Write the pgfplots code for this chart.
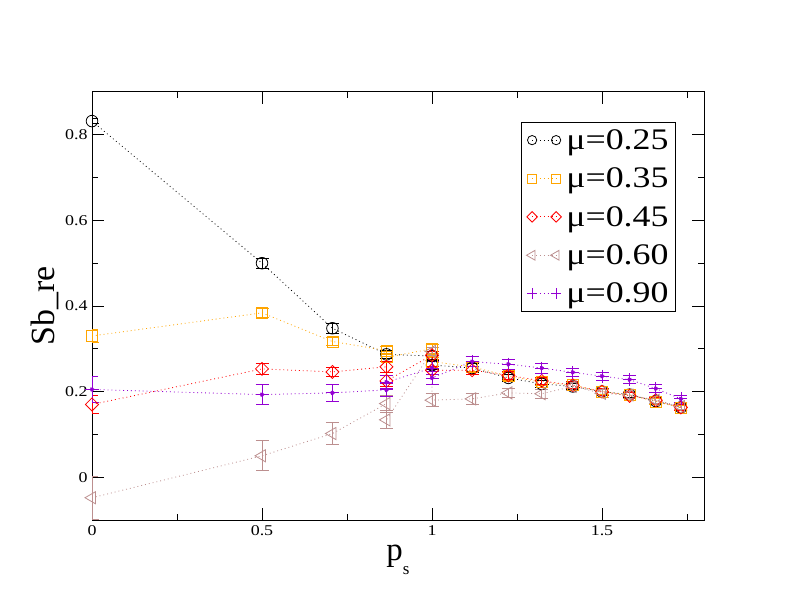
\documentclass[border=0pt]{standalone}
\usepackage{pgfplots}
\pgfplotsset{compat=1.18}
\usepackage{pgfplotstable}
\usepackage{fontspec}
\setmainfont{Liberation Serif}
\newfontfamily\widefont[FakeStretch=1.2]{Liberation Serif}
\definecolor{gorange}{RGB}{255,165,0}
\definecolor{gbrown}{RGB}{188,143,143}
\definecolor{gviolet}{RGB}{148,0,211}

\pgfplotstableread{
x y e
0 0.832 0.006
0.5 0.500 0.012
0.7071 0.348 0.012
0.8660 0.287 0.010
1.0 0.283 0.010
1.0 0.262 0.010
1.1180 0.255 0.010
1.2247 0.232 0.008
1.3229 0.218 0.008
1.4142 0.212 0.007
1.5 0.200 0.007
1.5811 0.193 0.006
1.6583 0.178 0.006
1.7321 0.163 0.006
}\tA
\pgfplotstableread{
x y e
0 0.330 0.016
0.5 0.384 0.011
0.7071 0.317 0.010
0.8660 0.296 0.010
0.8660 0.280 0.010
1.0 0.300 0.010
1.0 0.270 0.010
1.1180 0.258 0.010
1.2247 0.236 0.009
1.3229 0.222 0.008
1.4142 0.215 0.008
1.5 0.200 0.007
1.5811 0.192 0.007
1.6583 0.177 0.006
1.7321 0.162 0.006
}\tB
\pgfplotstableread{
x y e
0 0.170 0.022
0.5 0.253 0.013
0.7071 0.246 0.010
0.8660 0.258 0.012
0.8660 0.225 0.012
1.0 0.285 0.010
1.0 0.250 0.010
1.1180 0.250 0.010
1.2247 0.238 0.009
1.3229 0.225 0.009
1.4142 0.215 0.008
1.5 0.200 0.008
1.5811 0.190 0.007
1.6583 0.180 0.007
1.7321 0.163 0.006
}\tC
\pgfplotstableread{
x y e
0 -0.048 0.050
0.5 0.050 0.035
0.7071 0.102 0.025
0.8660 0.172 0.020
0.8660 0.134 0.021
1.0 0.294 0.010
1.0 0.180 0.015
1.1180 0.183 0.012
1.2247 0.197 0.010
1.3229 0.195 0.010
1.4142 0.212 0.010
1.5 0.196 0.009
1.5811 0.192 0.008
1.6583 0.180 0.008
1.7321 0.165 0.007
}\tD
\pgfplotstableread{
x y e
0 0.205 0.030
0.5 0.193 0.024
0.7071 0.197 0.020
0.8660 0.204 0.015
0.8660 0.222 0.015
1.0 0.255 0.015
1.0 0.232 0.015
1.1180 0.270 0.012
1.2247 0.264 0.012
1.3229 0.255 0.012
1.4142 0.245 0.010
1.5 0.236 0.010
1.5811 0.228 0.010
1.6583 0.207 0.009
1.7321 0.183 0.009
}\tE

\begin{document}
\begin{tikzpicture}
\path[use as bounding box] (-92bp,-92bp) rectangle (700bp,520bp);
\begin{axis}[
  at={(0,0)}, anchor=south west,
  scale only axis, width=612bp, height=428bp,
  xmin=0, xmax=1.8, ymin=-0.1, ymax=0.9,
  xtick={0,0.5,1,1.5}, minor xtick={0.25,0.75,1.25,1.75},
  ytick={0,0.2,0.4,0.6,0.8}, minor ytick={-0.1,0.1,0.3,0.5,0.7},
  tick align=inside, major tick length=12bp, minor tick length=6bp,
  tick style={black, line width=0.8bp},
  axis line style={line width=1bp},
  /pgf/number format/assume math mode=true,
  ticklabel style={font=\widefont\fontsize{15}{18}\selectfont},
  xticklabel style={yshift=-2bp},
  yticklabel style={xshift=-1bp},
  xlabel={p\raisebox{-14bp}{\fontsize{17}{20}\selectfont s}},
  xlabel style={font=\fontsize{33}{40}\selectfont, at={(axis description cs:0.5,0)}, anchor=base, yshift=-40bp},
  ylabel={Sb\_re},
  ylabel style={font=\fontsize{34}{40}\selectfont, at={(axis description cs:-0.077,0.5)}, anchor=center},
  legend style={at={(axis description cs:0.701,0.93)}, anchor=north west,
     font=\widefont\fontsize{30}{32}\selectfont, draw=black, line width=1bp,
     row sep=13bp, column sep=3bp, inner sep=5bp, nodes={inner sep=2bp}},
  legend cell align=left,
  legend image code/.code={\draw[#1, every mark/.append style={scale=0.8}] plot coordinates {(0bp,0bp) (24bp,0bp)};},
  every axis plot/.append style={line width=0.8bp, dash pattern=on 0.9bp off 3bp,
     error bars/y dir=both, error bars/y explicit,
     error bars/error bar style={solid, line width=0.8bp},
     error bars/error mark options={solid, rotate=90, mark size=6.5bp, line width=0.8bp}},
]
\addplot[black, mark=o, mark size=5.8bp, mark options={solid, black, line width=0.8bp}] table[x=x, y=y, y error=e] {\tA};
\addlegendentry{μ=0.25}
\addplot[gorange, mark=square, mark size=5.5bp, mark options={solid, gorange, line width=0.8bp}] table[x=x, y=y, y error=e] {\tB};
\addlegendentry{μ=0.35}
\addplot[red, mark=square, mark size=4.6bp, mark options={solid, red, rotate=45, line width=0.8bp}] table[x=x, y=y, y error=e] {\tC};
\addlegendentry{μ=0.45}
\addplot[gbrown, mark=triangle, mark size=7bp, mark options={solid, gbrown, rotate=90, line width=0.8bp}] table[x=x, y=y, y error=e] {\tD};
\addlegendentry{μ=0.60}
\addplot[gviolet, only marks, mark=none, forget plot, skip coords between index={11}{15}] table[x=x, y=y, y error=e] {\tE};
\addplot[gviolet, only marks, mark=none, forget plot, skip coords between index={0}{11}] table[x=x, y=y, y error=e] {\tE};
\addplot[gviolet, mark=+, mark size=6.5bp, mark options={solid, gviolet, line width=0.8bp, mark size=6.5bp},
  error bars/y dir=none] table[x=x, y=y] {\tE};
\addlegendentry{μ=0.90}
\end{axis}
\end{tikzpicture}
\end{document}
